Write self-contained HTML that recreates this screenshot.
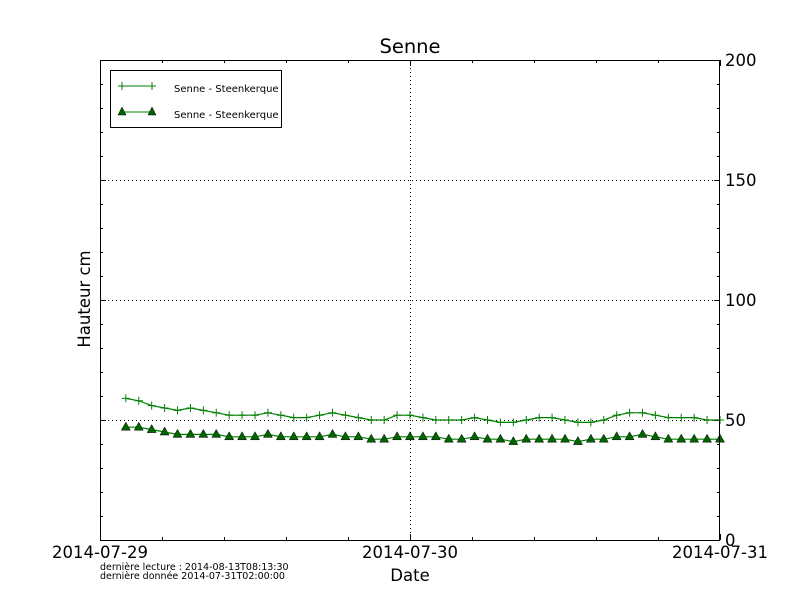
<!DOCTYPE html>
<html><head><meta charset="utf-8"><style>body{margin:0;background:#fff}svg{display:block}</style></head>
<body>
<svg id="s" width="800" height="600" xmlns="http://www.w3.org/2000/svg" font-family="DejaVu Sans, Liberation Sans, sans-serif">
<rect width="800" height="600" fill="#fff"/>
<g id="grid" stroke="#000" stroke-width="1" stroke-dasharray="1,3">
<line x1="100" y1="420.5" x2="720" y2="420.5"/>
<line x1="100" y1="300.5" x2="720" y2="300.5"/>
<line x1="100" y1="180.5" x2="720" y2="180.5"/>
<line x1="410.5" y1="60" x2="410.5" y2="540"/>
</g>
<g id="ticks" stroke="#000" stroke-width="1"></g>
<g id="data"></g>
<rect x="100.5" y="60.5" width="619" height="480" fill="none" stroke="#000"/>
<text x="410" y="53" font-size="19.5" text-anchor="middle">Senne</text>
<g font-size="16.5">
<text x="100" y="558" text-anchor="middle">2014-07-29</text>
<text x="410" y="558" text-anchor="middle">2014-07-30</text>
<text x="720" y="558" text-anchor="middle">2014-07-31</text>
<text x="725" y="546">0</text>
<text x="725" y="426">50</text>
<text x="725" y="306">100</text>
<text x="725" y="186">150</text>
<text x="725" y="66">200</text>
<text x="410" y="581" text-anchor="middle">Date</text>
<text transform="translate(90,299) rotate(-90)" text-anchor="middle">Hauteur cm</text>
</g>
<text x="100" y="570" font-size="9.5">dernière lecture : 2014-08-13T08:13:30</text>
<text x="100" y="579" font-size="9.5">dernière donnée  2014-07-31T02:00:00</text>
<rect x="110.5" y="70.5" width="171" height="57" fill="#fff" stroke="#000"/>
<line x1="122" y1="86" x2="152" y2="86" stroke="#008000"/>
<path d="M122 82v8M118 86h8M152 82v8M148 86h8" stroke="#008000"/>
<line x1="122" y1="112" x2="152" y2="112" stroke="#008000"/>
<path d="M122 107l4 8h-8zM152 107l4 8h-8z" fill="#006400" stroke="#000" stroke-width="0.5"/>
<text x="174" y="92" font-size="10">Senne - Steenkerque</text>
<text x="174" y="118" font-size="10">Senne - Steenkerque</text>
</svg>
<script>
var A=[59,58,56,55,54,55,54,53,52,52,52,53,52,51,51,52,53,52,51,50,50,52,52,51,50,50,50,51,50,49,49,50,51,51,50,49,49,50,52,53,53,52,51,51,51,50,50];
var B=[47,47,46,45,44,44,44,44,43,43,43,44,43,43,43,43,44,43,43,42,42,43,43,43,43,42,42,43,42,42,41,42,42,42,42,41,42,42,43,43,44,43,42,42,42,42,42];
function X(i){return 100+(i+2)*310/24}function Y(v){return 540-v*2.4}
var d=document.getElementById('data'),h='';
function line(arr){return '<polyline fill="none" stroke="#008000" stroke-width="1.2" points="'+arr.map(function(v,i){return X(i).toFixed(1)+','+Y(v).toFixed(1)}).join(' ')+'"/>'}
h+=line(A)+line(B);
A.forEach(function(v,i){var x=X(i),y=Y(v);h+='<path d="M'+(x-4)+' '+y+'h8M'+x+' '+(y-4)+'v8" stroke="#008000"/>'});
B.forEach(function(v,i){var x=X(i),y=Y(v);h+='<path d="M'+x+' '+(y-5)+'l4.5 8h-9z" fill="#006400" stroke="#000" stroke-width="0.5"/>'});
d.innerHTML=h;
var t='';
for(var i=0;i<=10;i++){var x=100+i*62+0.5;var L=(i%5==0)?6:3;t+='<line x1="'+x+'" y1="60" x2="'+x+'" y2="'+(60+L)+'"/><line x1="'+x+'" y1="540" x2="'+x+'" y2="'+(540-L)+'"/>';}
for(var v=0;v<=200;v+=10){var y=540-v*2.4+0.5;var L=(v%50==0)?6:3;t+='<line x1="100" y1="'+y+'" x2="'+(100+L)+'" y2="'+y+'"/><line x1="720" y1="'+y+'" x2="'+(720-L)+'" y2="'+y+'"/>';}
document.getElementById('ticks').innerHTML=t;
</script>
</body></html>
